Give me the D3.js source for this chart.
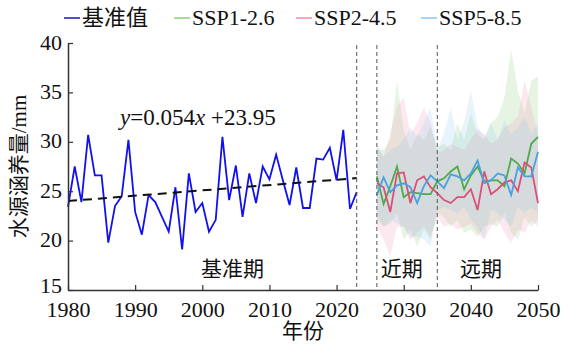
<!DOCTYPE html>
<html>
<head>
<meta charset="utf-8">
<script src="https://cdn.jsdelivr.net/npm/d3@7"></script>
<style>
  body { margin: 0; background: #fff; }
  text { font-family: "Liberation Serif", "Noto Sans CJK SC", serif; fill: #111; }
</style>
</head>
<body>
<svg id="chart" width="577" height="344"></svg>
<script>
// baseline 1980-2023
const baseYears = d3.range(1980, 2024);
const baseValues = [23.4, 27.5, 23.9, 30.7, 26.6, 26.6, 19.8, 23.5, 24.5, 30.2,
  22.9, 20.6, 24.6, 23.9, 22.4, 20.9, 25.4, 19.1, 26.8, 22.9,
  23.8, 20.9, 22.1, 30.5, 24.1, 27.6, 22.4, 26.8, 23.8, 27.5,
  26.2, 28.7, 26.1, 23.6, 27.4, 23.3, 23.3, 28.3, 28.2, 29.4,
  26.1, 31.2, 23.2, 24.9];

// linear trend y = 0.054x + 23.95 (x = 1 for 1980)
const trendSlope = 0.054;
const trendIntercept = 23.95;

// scenario years 2026-2050
const sspYears = d3.range(2026, 2051);
const ssp126 = [26.5, 23.7, 25.5, 27.5, 24.4, 24.9, 24.8, 24.7, 24.7, 26.0,
  26.3, 27.0, 27.5, 25.2, 26.6, 27.5, 26.0, 26.1, 26.1, 25.5, 28.3, 27.8, 26.8, 29.8, 30.5];
const ssp245 = [25.8, 25.4, 22.9, 26.8, 26.9, 23.8, 26.1, 26.5, 25.4, 24.8,
  24.1, 23.8, 24.4, 24.4, 25.2, 23.1, 27.0, 24.7, 25.2, 25.9, 26.1, 25.0, 27.9, 27.4, 23.8];
const ssp585 = [24.6, 26.4, 24.9, 25.6, 25.8, 25.4, 23.8, 25.5, 26.6, 26.0,
  25.3, 26.7, 26.5, 26.1, 26.8, 28.1, 25.8, 26.1, 26.8, 26.6, 24.6, 27.4, 26.5, 26.5, 29.0];

// model spread (upper / lower)
const ssp126Hi = [29.2, 29.2, 30.2, 36.2, 31.2, 29.2, 30.8, 30.2, 31.5, 29.5,
  29.8, 29.2, 31.9, 30.2, 32.9, 30.8, 30.2, 31.9, 32.5, 34.5, 39.3, 35.2, 32.9, 36.2, 36.6];
const ssp126Lo = [22.1, 21.4, 21.7, 22.8, 20.1, 21.1, 19.4, 21.1, 20.1, 22.8,
  22.4, 21.4, 22.1, 20.8, 21.1, 20.4, 21.4, 21.7, 21.4, 22.8, 20.8, 20.1, 22.4, 21.4, 22.1];
const ssp245Hi = [29.5, 28.5, 30.8, 33.5, 34.5, 30.8, 31.9, 33.5, 31.9, 28.8,
  29.2, 29.8, 29.5, 29.2, 30.2, 31.2, 30.8, 29.8, 30.2, 31.5, 31.9, 32.5, 36.2, 33.5, 30.8];
const ssp245Lo = [21.4, 20.1, 18.4, 21.4, 21.4, 20.1, 20.8, 21.4, 20.4, 22.4,
  21.4, 21.7, 21.1, 21.4, 21.7, 20.8, 20.1, 21.4, 22.1, 20.8, 19.7, 21.1, 20.8, 22.1, 21.4];
const ssp585Hi = [29.8, 28.5, 29.2, 29.5, 30.2, 31.5, 30.5, 31.9, 33.5, 29.2,
  30.8, 33.5, 30.2, 32.0, 35.2, 31.5, 30.5, 31.9, 30.2, 32.2, 30.8, 31.5, 32.5, 30.8, 31.9];
const ssp585Lo = [22.8, 21.4, 22.1, 21.7, 21.4, 20.4, 20.4, 20.1, 19.4, 23.1,
  23.4, 23.1, 22.8, 23.4, 22.1, 21.4, 20.1, 23.1, 22.8, 22.1, 21.4, 23.4, 22.8, 23.4, 22.8];

const periodBreaks = [2023, 2026, 2035];
const periodLabels = ["基准期", "近期", "远期"];
const periodCenters = [2004.5, 2029.7, 2041.5];

const legendNames = ["基准值", "SSP1-2.6", "SSP2-4.5", "SSP5-8.5"];

const margin = { top: 43, right: 39, bottom: 54, left: 68 },
  width = 577 - margin.left - margin.right,
  height = 344 - margin.top - margin.bottom;

const svg = d3.select("#chart")
  .append("g")
  .attr("transform", `translate(${margin.left},${margin.top})`);

const x = d3.scaleLinear().domain([1980, 2050]).range([0, width]);
const y = d3.scaleLinear().domain([15, 40]).range([height, 0]);

const scenarios = [
  { name: "SSP1-2.6", mean: ssp126, hi: ssp126Hi, lo: ssp126Lo, line: "#4fa84a", band: "#86c878", legend: "#a8d89c" },
  { name: "SSP2-4.5", mean: ssp245, hi: ssp245Hi, lo: ssp245Lo, line: "#dc4f78", band: "#f293b0", legend: "#f2a9bd" },
  { name: "SSP5-8.5", mean: ssp585, hi: ssp585Hi, lo: ssp585Lo, line: "#48a2e0", band: "#8cc6ee", legend: "#a9d4f2" }
];

// bands
const area = d3.area()
  .x((d, i) => x(sspYears[i]))
  .y0(d => y(d[0]))
  .y1(d => y(d[1]));
scenarios.forEach(s => {
  svg.append("path")
    .datum(s.lo.map((v, i) => [v, s.hi[i]]))
    .attr("fill", s.band)
    .attr("fill-opacity", 0.2)
    .attr("d", area);
});

// scenario lines
const sspLine = d3.line().x((d, i) => x(sspYears[i])).y(d => y(d));
scenarios.forEach(s => {
  svg.append("path")
    .datum(s.mean)
    .attr("fill", "none")
    .attr("stroke", s.line)
    .attr("stroke-width", 1.8)
    .attr("d", sspLine);
});

// baseline
svg.append("path")
  .datum(baseValues)
  .attr("fill", "none")
  .attr("stroke", "#1010f0")
  .attr("stroke-width", 1.8)
  .attr("d", d3.line().x((d, i) => x(baseYears[i])).y(d => y(d)));

// trend
const trendYears = [baseYears[0], baseYears[baseYears.length - 1]];
svg.append("path")
  .datum(trendYears)
  .attr("fill", "none")
  .attr("stroke", "#111")
  .attr("stroke-width", 2)
  .attr("stroke-dasharray", "9,6")
  .attr("d", d3.line().x(d => x(d)).y(d => y(trendSlope * (d - 1979) + trendIntercept)));

svg.append("text")
  .attr("x", 52)
  .attr("y", 82)
  .style("font-size", "23px")
  .html('<tspan font-style="italic">y</tspan>=0.054<tspan font-style="italic">x</tspan> +23.95');

// period separators
svg.selectAll(".sep")
  .data(periodBreaks)
  .join("line")
  .attr("x1", d => x(d)).attr("x2", d => x(d))
  .attr("y1", 2).attr("y2", height)
  .attr("stroke", "#555")
  .attr("stroke-width", 1)
  .attr("stroke-dasharray", "4,3");

svg.selectAll(".period")
  .data(periodLabels)
  .join("text")
  .attr("x", (d, i) => x(periodCenters[i]))
  .attr("y", height - 14)
  .attr("text-anchor", "middle")
  .style("font-size", "21px")
  .text(d => d);

// axes
const xAxis = svg.append("g")
  .attr("transform", `translate(0,${height})`)
  .call(d3.axisBottom(x).tickValues(d3.range(1980, 2051, 10)).tickFormat(d3.format("d"))
    .tickSizeInner(-5).tickSizeOuter(0).tickPadding(11));
const yAxis = svg.append("g")
  .call(d3.axisLeft(y).tickValues(d3.range(15, 41, 5))
    .tickSizeInner(-5).tickSizeOuter(0).tickPadding(6));
[xAxis, yAxis].forEach(a => {
  a.select(".domain").attr("stroke", "#333").attr("stroke-width", 1.5);
  a.selectAll(".tick line").attr("stroke", "#333").attr("stroke-width", 1.2);
  a.selectAll(".tick text").style("font-size", "22px")
    .style("font-family", '"Liberation Serif", serif').attr("fill", "#111");
});
yAxis.selectAll(".tick text").attr("dy", d => d === 15 ? "0.12em" : "0.28em");

svg.append("text")
  .attr("x", width / 2)
  .attr("y", height + 48)
  .attr("text-anchor", "middle")
  .style("font-size", "21px")
  .text("年份");

svg.append("text")
  .attr("transform", "rotate(-90)")
  .attr("x", -(y(27.5)))
  .attr("y", -margin.left + 26)
  .attr("text-anchor", "middle")
  .style("font-size", "21px")
  .text("水源涵养量/mm");

// legend
const legendColors = ["#4f4fd6"].concat(scenarios.map(s => s.legend));
const legendX = [64, 174, 296, 421];
const legend = d3.select("#chart").append("g");
legendNames.forEach((n, i) => {
  legend.append("line")
    .attr("x1", legendX[i]).attr("x2", legendX[i] + 16)
    .attr("y1", 18).attr("y2", 18)
    .attr("stroke", legendColors[i])
    .attr("stroke-width", 2);
  legend.append("text")
    .attr("x", legendX[i] + 18)
    .attr("y", 25)
    .style("font-size", "22px")
    .text(n);
});
</script>
</body>
</html>
